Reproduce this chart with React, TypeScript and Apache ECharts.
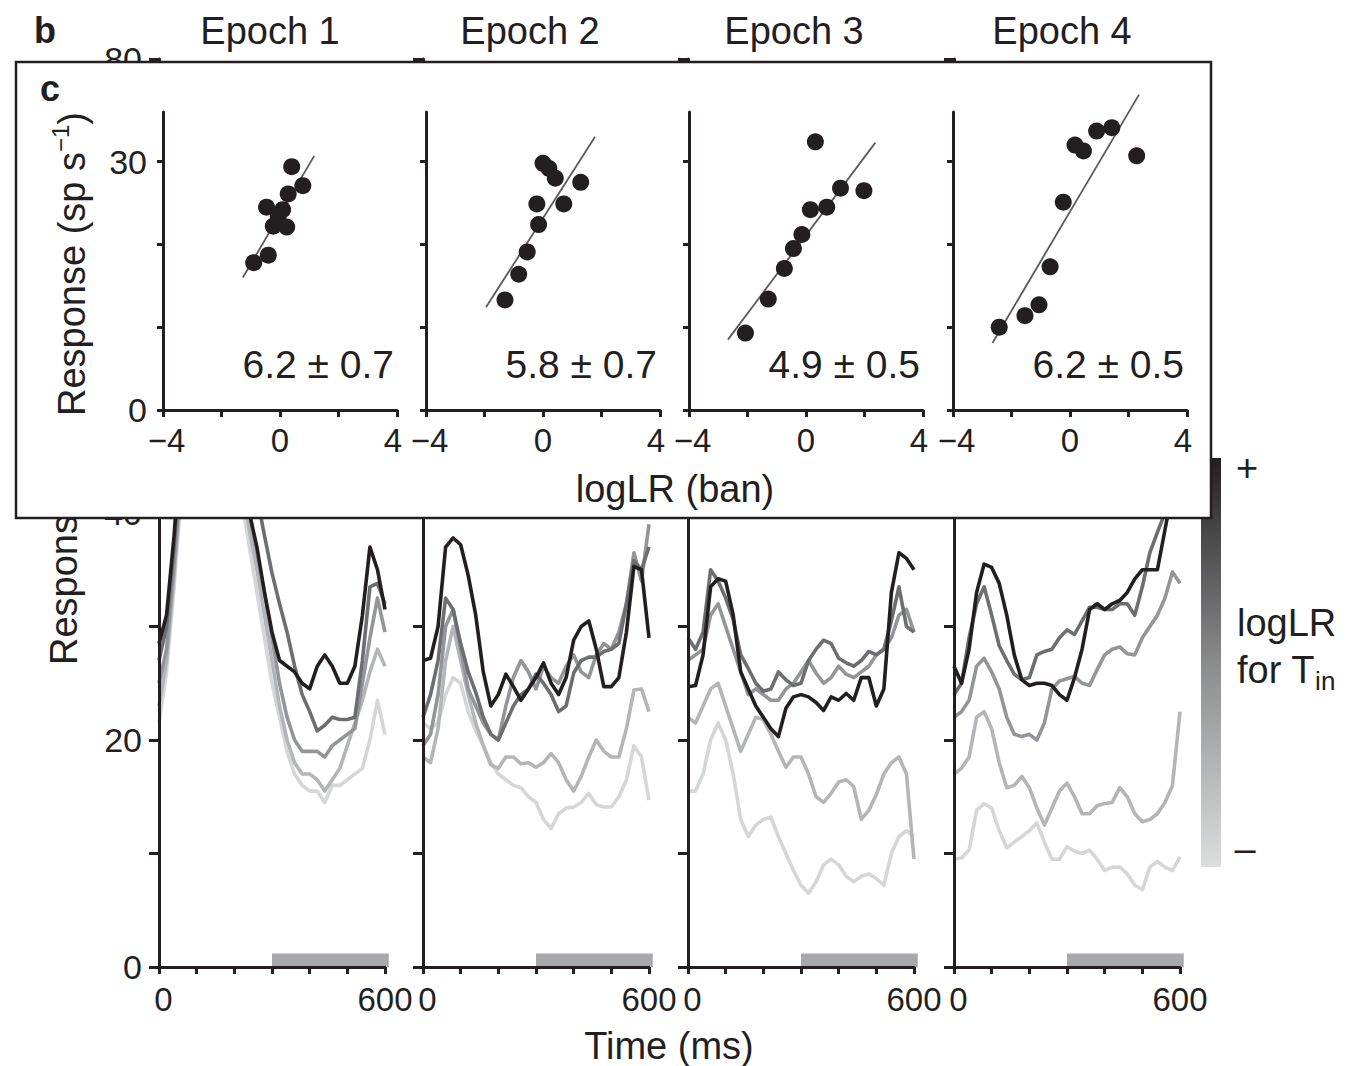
import React, { useEffect, useRef } from 'react';
import * as echarts from 'echarts';

const INK = '#231f20';
const FONT = '"Liberation Sans", Arial, Helvetica, sans-serif';

// ---------- text / ticks ----------
const EPOCH_TITLES = ['Epoch 1', 'Epoch 2', 'Epoch 3', 'Epoch 4'];
const SLOPE_LABELS = ['6.2 ± 0.7', '5.8 ± 0.7', '4.9 ± 0.5', '6.2 ± 0.5'];
const TIME_LABEL_VALUES = [0, 600];
const RESP_LABEL_VALUES = [0, 20, 40, 60, 80];
const LOGLR_LABEL_VALUES = [-4, 0, 4];
const SCATTER_Y_TICKS = [0, 10, 20, 30];
const SCATTER_Y_LABELS = [0, 30];

// ---------- panel b: time courses (ms) ----------
const TIMES_MS = [0, 20, 40, 60, 80, 100, 120, 140, 160, 180, 200, 220, 240, 260, 280, 300,
  320, 340, 360, 380, 400, 420, 440, 460, 480, 500, 520, 540, 560, 580, 600];
const STIM_BAR = [300, 610, 1.2]; // start ms, end ms, height (sp/s)

// logLR bins: BIN1 = most positive (black) ... BIN5 = most negative (lightest)
const E1_BIN1 = [28.5, 31, 38, 47, 56, 63, 68, 70, 68, 64, 57, 49, 40, 37, 33, 29.5, 27, 26.5, 26, 25, 24.5, 26.5, 27.5, 26.5, 25, 25, 26.5, 31, 37, 35, 31.5];
const E1_BIN2 = [27, 30, 37, 45, 54, 61, 65, 67, 66, 63, 58, 52, 46, 41.5, 38, 34.7, 32, 29.5, 26.5, 24, 22.5, 20.8, 21.3, 22, 21.8, 21.8, 22, 27, 33.5, 33.8, 32];
const E1_BIN3 = [25, 28, 35.5, 44, 52, 58, 62, 63, 61, 57, 52, 46, 40, 36.5, 33, 29, 25, 22, 20, 19, 19, 19, 18.5, 19.5, 20, 20.5, 21, 25, 29, 32.5, 29.5];
const E1_BIN4 = [23, 27, 34.5, 43, 50, 56, 59, 60, 58, 54, 49, 43, 38.5, 35, 31, 27, 23, 20, 18, 17, 17, 16.5, 15.5, 16.5, 17.5, 19.5, 21.5, 23.5, 26, 28, 26.5];
const E1_BIN5 = [21.5, 26, 33.5, 42, 49, 54, 57, 57, 55, 51, 46, 41, 37, 33, 29, 25, 22, 19, 17, 16, 15.5, 15.5, 14.5, 16, 16, 16.5, 17, 17.5, 20, 23.5, 20.5];

const E2_BIN1 = [27, 27.2, 30, 37, 37.8, 37.2, 34.5, 31, 26, 23, 24, 25.8, 24.7, 23.5, 24.5, 25.5, 26.8, 25, 24, 25.5, 28.8, 30, 30.5, 28, 24.7, 24.7, 25.5, 29.5, 35.3, 35, 29];
const E2_BIN2 = [22, 24, 27, 32.5, 31.5, 28.5, 26, 24.2, 22, 20.5, 20, 21.5, 23, 24, 24.5, 25.8, 25, 24, 22.5, 23, 25.9, 27, 27.3, 27.3, 27.8, 28, 28.5, 32, 35.8, 35, 37];
const E2_BIN3 = [19.5, 20.5, 24, 30, 31.5, 28, 24.5, 23, 21.5, 20.5, 20, 23, 25.5, 27, 26, 24.5, 26.5, 25.5, 25, 26.5, 27.5, 26, 25.5, 27.5, 28.5, 28, 29.5, 32, 36.5, 34, 39];
const E2_BIN4 = [18.5, 18, 21, 27, 30, 27, 24, 21.5, 19.5, 17.8, 17.5, 18.5, 18.5, 17.9, 18, 17.6, 18, 18.8, 18, 16.5, 15.5, 16.8, 18.5, 20, 19, 18.5, 18.5, 21, 24.4, 24.5, 22.5];
const E2_BIN5 = [21.5, 21, 21.5, 24, 25.5, 25, 22.5, 20.8, 19.5, 18, 17, 16.5, 16, 15.8, 15, 14.5, 13, 12.2, 13.5, 14, 14.1, 14.5, 15.3, 14.3, 14.1, 14.1, 15, 16.5, 19.5, 18.5, 14.7];

const E3_BIN1 = [24.7, 24.8, 27.5, 33.5, 34.2, 34, 31, 26, 24.5, 23, 22, 21, 20.3, 22.8, 23.8, 24, 23.8, 23.3, 22.6, 23.8, 23.5, 24.1, 23.5, 25.5, 25.5, 23, 24.5, 33, 36.5, 36, 35];
const E3_BIN2 = [29, 28, 29.5, 35, 34, 32.5, 30.6, 27.5, 26.3, 25, 24.3, 24.5, 26, 25.3, 24.8, 25, 27, 28, 28.8, 28.5, 27.2, 26.8, 26.5, 27, 27.8, 27.5, 28, 30.5, 33.5, 30, 29.5];
const E3_BIN3 = [27, 27.5, 28, 31, 32, 30, 28, 26, 24, 24.5, 24, 23.5, 23.5, 24.5, 25, 26, 27, 25.9, 25, 25.5, 26.5, 25.8, 25.5, 26, 26.5, 27.5, 28, 29, 31, 31.5, 29.5];
const E3_BIN4 = [22, 21.5, 23, 24.5, 25, 23, 21, 19, 20.5, 22, 21.8, 20.5, 19, 17.6, 18.5, 18.5, 17, 15, 14.5, 15.3, 16.3, 16.5, 15.9, 13, 13.8, 15.2, 17, 18, 18.5, 17, 9.5];
const E3_BIN5 = [15.5, 15.5, 17, 20, 21.5, 20, 17, 13, 11.5, 12.5, 13, 13.2, 11.5, 10, 8.5, 7.2, 6.5, 7.5, 9, 9.5, 9, 8, 7.5, 8, 8.2, 7.8, 7.2, 10, 11.5, 12, 11.5];

const E4_BIN1 = [26.5, 25, 28, 33, 35.5, 35.2, 33.8, 31, 27.5, 25.3, 24.8, 25, 25, 24.8, 24, 23.5, 25.5, 28, 31.5, 32, 31.5, 32, 32.3, 33, 34.2, 35, 35, 35, 38.5, 42, 45];
const E4_BIN2 = [24, 25, 29, 32, 33.5, 31, 28.3, 27, 25.8, 25.3, 25.5, 27.5, 27.8, 28, 29, 29.7, 29.3, 30.5, 31.7, 31.7, 31.5, 31.5, 32, 32, 31, 33.5, 36.5, 38.3, 40, 43, 44];
const E4_BIN3 = [22, 22.5, 23.5, 26.5, 27.2, 26, 24.5, 22, 20.5, 20.3, 20.5, 20, 21.5, 24.5, 25.2, 25.4, 25.6, 25, 24.8, 26.2, 27.5, 28, 28.2, 27.6, 27.5, 29, 30, 31, 32.5, 34.8, 33.8];
const E4_BIN4 = [17, 17.5, 18.5, 22, 22.5, 21, 18, 15.8, 16, 16.8, 15.8, 14, 12.5, 14, 15.5, 16.2, 15, 13.5, 13.5, 14.2, 14.4, 14.5, 15.8, 15, 13.5, 12.8, 13, 13.5, 14.5, 16, 22.5];
const E4_BIN5 = [9.5, 9.6, 10.3, 13.8, 14.4, 14, 12, 10.5, 11, 11.5, 12, 12.7, 11, 9.5, 9.5, 10.6, 10.2, 10, 10.3, 9.5, 8.5, 8.8, 8.8, 8.2, 7.2, 6.8, 8.8, 9.3, 8.8, 8.5, 9.7];

const EPOCH_TRACES = [
  [E1_BIN1, E1_BIN2, E1_BIN3, E1_BIN4, E1_BIN5],
  [E2_BIN1, E2_BIN2, E2_BIN3, E2_BIN4, E2_BIN5],
  [E3_BIN1, E3_BIN2, E3_BIN3, E3_BIN4, E3_BIN5],
  [E4_BIN1, E4_BIN2, E4_BIN3, E4_BIN4, E4_BIN5],
];
const BIN_COLORS = ['#231f20', '#6d6e71', '#939598', '#b3b5b8', '#d5d6d8'];

// ---------- panel c: response vs logLR ----------
const C1_POINTS = [[0.40, 29.4], [0.78, 27.1], [0.28, 26.1], [-0.46, 24.5], [0.09, 24.2], [-0.06, 23.4], [-0.23, 22.2], [0.23, 22.1], [-0.40, 18.7], [-0.90, 17.8]];
const C2_POINTS = [[0.0, 29.8], [0.2, 29.2], [0.42, 28.0], [1.29, 27.5], [-0.21, 24.9], [0.71, 24.9], [-0.15, 22.4], [-0.54, 19.1], [-0.83, 16.4], [-1.30, 13.3]];
const C3_POINTS = [[0.32, 32.4], [1.18, 26.8], [1.98, 26.5], [0.15, 24.2], [0.71, 24.5], [-0.14, 21.2], [-0.43, 19.5], [-0.74, 17.1], [-1.29, 13.4], [-2.07, 9.3]];
const C4_POINTS = [[-2.42, 10.0], [-1.54, 11.4], [-1.06, 12.7], [-0.68, 17.3], [-0.23, 25.1], [0.17, 32.0], [0.46, 31.3], [0.91, 33.7], [1.43, 34.1], [2.28, 30.7]];
const C1_FIT = [[-1.27, 16.0], [1.17, 30.7]];
const C2_FIT = [[-1.95, 12.4], [1.78, 33.0]];
const C3_FIT = [[-2.67, 8.5], [2.37, 32.3]];
const C4_FIT = [[-2.65, 8.1], [2.36, 38.1]];
const SCATTERS = [C1_POINTS, C2_POINTS, C3_POINTS, C4_POINTS];
const FITS = [C1_FIT, C2_FIT, C3_FIT, C4_FIT];

// ---------- layout ----------
const W = 1357;
const H = 1066;
const B_LEFT = [159, 423, 688, 954];
const B_WIDTH = 226;
const B_TOP = 59;
const B_HEIGHT = 908;
const TITLE_X = [270, 530, 794, 1062];
const C_LEFT = [163, 426, 689, 953];
const C_WIDTH = 234;
const C_TOP = 112;
const C_HEIGHT = 298;
const BOX = { x: 16, y: 62, width: 1195, height: 456 };
const CBAR = { x: 1201, y: 458, width: 20, height: 409 };

const TICK_FONT = { fontSize: 33, fontFamily: FONT, color: INK };

function txt(x: number, y: number, text: string, o: any = {}) {
  const align = o.align || 'center';
  return {
    type: 'text',
    x,
    y,
    z: o.z ?? 30,
    rotation: o.rotation || 0,
    silent: true,
    style: {
      text,
      fill: INK,
      fontSize: o.fontSize || 38,
      fontFamily: FONT,
      fontWeight: o.fontWeight || 'normal',
      textAlign: align,
      align,
      textVerticalAlign: 'middle',
      verticalAlign: 'middle',
      rich: o.rich,
    },
  };
}

function buildOption() {
  const grid: any[] = [];
  const xAxis: any[] = [];
  const yAxis: any[] = [];
  const series: any[] = [];

  const axisLine = { show: true, onZero: false, lineStyle: { color: INK, width: 3 } };

  // panel b
  B_LEFT.forEach((left, i) => {
    grid.push({ left, top: B_TOP, width: B_WIDTH, height: B_HEIGHT, containLabel: false });
    xAxis.push({
      gridIndex: i, type: 'value', min: 0, max: 600, interval: 100, z: 3,
      axisLine,
      axisTick: { show: true, inside: false, length: 7, lineStyle: { color: INK, width: 3 } },
      axisLabel: {
        show: true, customValues: TIME_LABEL_VALUES, ...TICK_FONT, margin: 16,
        formatter: (v: number) => (v === 0 ? '{l|0}' : '{n|' + v + '}'),
        rich: { l: { ...TICK_FONT, padding: [0, 0, 0, 9] }, n: { ...TICK_FONT } },
      },
      splitLine: { show: false },
    });
    yAxis.push({
      gridIndex: i, type: 'value', min: 0, max: 80, interval: 10, z: 3,
      axisLine,
      axisTick: { show: true, inside: false, length: 10, lineStyle: { color: INK, width: 3 } },
      axisLabel: { show: i === 0, customValues: RESP_LABEL_VALUES, ...TICK_FONT, fontSize: 34, margin: 17 },
      splitLine: { show: false },
    });
    series.push({
      type: 'custom', xAxisIndex: i, yAxisIndex: i, z: 2, silent: true,
      data: [STIM_BAR], encode: { x: [0, 1], y: 2 },
      renderItem: (_p: any, api: any) => {
        const a = api.coord([api.value(0), 0]);
        const b = api.coord([api.value(1), api.value(2)]);
        return { type: 'rect', shape: { x: a[0], y: b[1], width: b[0] - a[0], height: a[1] - b[1] }, style: { fill: '#a7a9ac' } };
      },
    });
    const traces = EPOCH_TRACES[i];
    for (let k = traces.length - 1; k >= 0; k--) {
      series.push({
        type: 'line', xAxisIndex: i, yAxisIndex: i, z: 2, silent: true,
        symbol: 'none', showSymbol: false,
        data: TIMES_MS.map((t, j) => [t, traces[k][j]]),
        lineStyle: { color: BIN_COLORS[k], width: 3.6, join: 'round' },
      });
    }
  });

  // panel c
  C_LEFT.forEach((left, i) => {
    const gi = 4 + i;
    grid.push({ left, top: C_TOP, width: C_WIDTH, height: C_HEIGHT, containLabel: false, z: 20 });
    xAxis.push({
      gridIndex: gi, type: 'value', min: -4, max: 4, interval: 2, z: 20,
      axisLine,
      axisTick: { show: true, inside: false, length: 7, lineStyle: { color: INK, width: 3 } },
      axisLabel: {
        show: true, customValues: LOGLR_LABEL_VALUES, ...TICK_FONT, margin: 14,
        formatter: (v: number) => (v < 0 ? '{a|\u2212' + Math.abs(v) + '}' : v > 0 ? '{b|' + v + '}' : '{n|0}'),
        rich: {
          a: { ...TICK_FONT, padding: [0, 0, 0, 7] },
          b: { ...TICK_FONT, padding: [0, 8, 0, 0] },
          n: { ...TICK_FONT },
        },
      },
      splitLine: { show: false },
    });
    yAxis.push({
      gridIndex: gi, type: 'value', min: 0, max: 36, interval: 10, z: 20,
      axisLine,
      axisTick: { show: true, inside: false, length: 6, customValues: SCATTER_Y_TICKS, lineStyle: { color: INK, width: 3 } },
      axisLabel: { show: i === 0, customValues: SCATTER_Y_LABELS, ...TICK_FONT, fontSize: 34, margin: 16 },
      splitLine: { show: false },
    });
    series.push({
      type: 'line', xAxisIndex: gi, yAxisIndex: gi, z: 21, silent: true, clip: false,
      symbol: 'none', showSymbol: false, data: FITS[i],
      lineStyle: { color: '#5a5b5d', width: 1.8 },
    });
    series.push({
      type: 'scatter', xAxisIndex: gi, yAxisIndex: gi, z: 22, silent: true,
      symbol: 'circle', symbolSize: 17, data: SCATTERS[i],
      itemStyle: { color: INK, opacity: 1 },
    });
  });

  const supRich = {
    m: { fontSize: 38, fontFamily: FONT, fill: INK, color: INK, lineHeight: 48, verticalAlign: 'middle' },
    s: { fontSize: 24, fontFamily: FONT, fill: INK, color: INK, lineHeight: 20, verticalAlign: 'top' },
  };
  const subRich = {
    m: { fontSize: 38, fontFamily: FONT, fill: INK, color: INK, lineHeight: 48, verticalAlign: 'middle' },
    s: { fontSize: 26, fontFamily: FONT, fill: INK, color: INK, lineHeight: 14, verticalAlign: 'bottom' },
  };
  const respText = '{m|Response (sp s}{s|\u22121}{m|)}';

  const graphic: any[] = [
    {
      type: 'rect', z: 3, silent: true,
      shape: { ...CBAR },
      style: {
        fill: new echarts.graphic.LinearGradient(0, 0, 0, 1, [
          { offset: 0, color: '#231f20' },
          { offset: 0.5, color: '#8a8b8d' },
          { offset: 1, color: '#dcdddf' },
        ]),
      },
    },
    txt(64, B_TOP + B_HEIGHT / 2, respText, { rotation: Math.PI / 2, z: 3, rich: supRich }),
    {
      type: 'rect', z: 10, silent: true,
      shape: { ...BOX },
      style: { fill: '#ffffff', stroke: INK, lineWidth: 2.5 },
    },
    txt(45, 30, 'b', { fontWeight: 'bold', fontSize: 36 }),
    txt(50, 88, 'c', { fontWeight: 'bold', fontSize: 36 }),
    ...EPOCH_TITLES.map((t, i) => txt(TITLE_X[i], 31, t)),
    ...SLOPE_LABELS.map((t, i) => txt(C_LEFT[i] + C_WIDTH - 3, 364, t, { align: 'right', fontSize: 39 })),
    txt(72, C_TOP + 152, respText, { rotation: Math.PI / 2, rich: supRich }),
    txt(675, 489, 'logLR (ban)'),
    txt(669, 1046, 'Time (ms)'),
    txt(1247, 468, '+'),
    txt(1245, 849, '\u2013'),
    txt(1237, 623, 'logLR', { align: 'left' }),
    txt(1237, 670, '{m|for T}{s|in}', { align: 'left', rich: subRich }),
  ];

  return {
    animation: false,
    backgroundColor: '#ffffff',
    grid,
    xAxis,
    yAxis,
    series,
    graphic: { elements: graphic },
  };
}

export default function App() {
  const ref = useRef<HTMLDivElement>(null);
  useEffect(() => {
    if (!ref.current) return;
    const chart = echarts.init(ref.current, undefined, { renderer: 'svg', width: W, height: H });
    chart.setOption(buildOption() as any);
    return () => chart.dispose();
  }, []);
  return (
    <div
      ref={ref}
      style={{ position: 'fixed', left: 0, top: 0, width: W, height: H, background: '#fff' }}
    />
  );
}
